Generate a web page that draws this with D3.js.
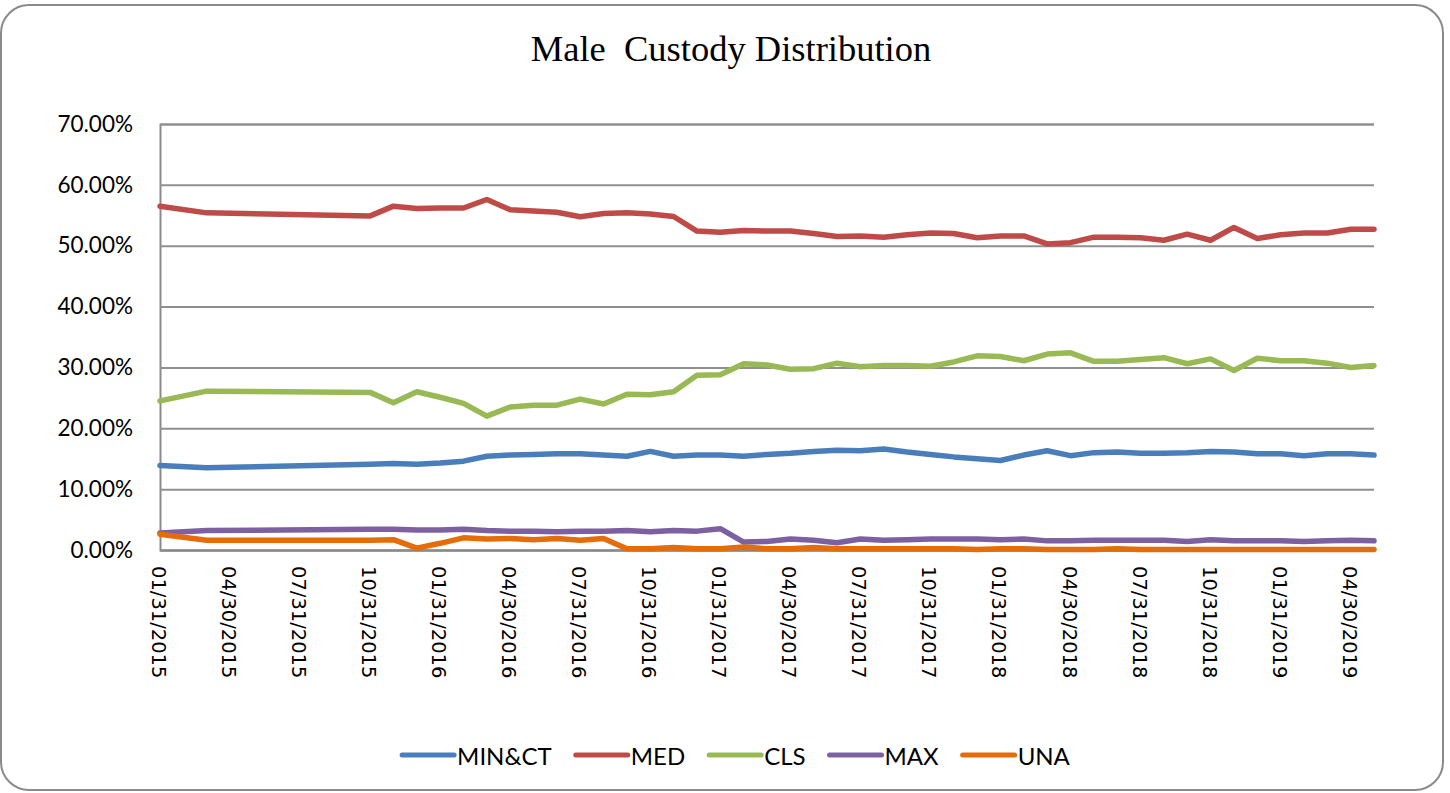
<!DOCTYPE html>
<html>
<head>
<meta charset="utf-8">
<script src="https://cdn.jsdelivr.net/npm/d3@7"></script>
<style>
  html, body { margin: 0; padding: 0; background: #fff; }
  svg { display: block; }
</style>
</head>
<body>
<svg id="chart" width="1450" height="793"></svg>
<script>
const title = "Male  Custody Distribution";

const dates = [
  "01/31/2015","03/31/2015","10/31/2015","11/30/2015","12/31/2015",
  "01/31/2016","02/29/2016","03/31/2016","04/30/2016","05/31/2016","06/30/2016",
  "07/31/2016","08/31/2016","09/30/2016","10/31/2016","11/30/2016","12/31/2016",
  "01/31/2017","02/28/2017","03/31/2017","04/30/2017","05/31/2017","06/30/2017",
  "07/31/2017","08/31/2017","09/30/2017","10/31/2017","11/30/2017","12/31/2017",
  "01/31/2018","02/28/2018","03/31/2018","04/30/2018","05/31/2018","06/30/2018",
  "07/31/2018","08/31/2018","09/30/2018","10/31/2018","11/30/2018","12/31/2018",
  "01/31/2019","02/28/2019","03/31/2019","04/30/2019","05/31/2019"
];

const tickLabels = [
  "01/31/2015","04/30/2015","07/31/2015","10/31/2015",
  "01/31/2016","04/30/2016","07/31/2016","10/31/2016",
  "01/31/2017","04/30/2017","07/31/2017","10/31/2017",
  "01/31/2018","04/30/2018","07/31/2018","10/31/2018",
  "01/31/2019","04/30/2019"
];

const yTicks = [0, 10, 20, 30, 40, 50, 60, 70];

const seriesNames = ["MIN&CT", "MED", "CLS", "MAX", "UNA"];
const seriesColors = ["#4A7EBB", "#BE4B48", "#98B954", "#7D60A0", "#E46C0A"];

const minct = [13.9,13.5,14.1,14.2,14.1,14.3,14.6,15.4,15.6,15.7,15.8,15.8,15.6,15.4,16.2,15.4,15.6,15.6,15.4,15.7,15.9,16.2,16.4,16.3,16.6,16.1,15.7,15.3,15.0,14.7,15.6,16.3,15.5,16.0,16.1,15.9,15.9,16.0,16.2,16.1,15.8,15.8,15.5,15.8,15.8,15.6];
const med   = [56.5,55.4,54.9,56.5,56.1,56.2,56.2,57.6,55.9,55.7,55.5,54.75,55.3,55.4,55.2,54.8,52.4,52.2,52.5,52.4,52.4,52.0,51.5,51.6,51.4,51.8,52.1,52.0,51.3,51.6,51.6,50.3,50.5,51.4,51.4,51.3,50.9,51.9,50.9,53.0,51.2,51.8,52.1,52.1,52.7,52.7];
const cls   = [24.5,26.1,25.9,24.2,26.0,25.1,24.1,22.0,23.5,23.8,23.8,24.8,24.0,25.6,25.5,26.0,28.7,28.8,30.6,30.4,29.7,29.8,30.7,30.1,30.3,30.3,30.2,30.9,31.9,31.8,31.1,32.2,32.4,31.0,31.0,31.3,31.6,30.6,31.4,29.5,31.5,31.1,31.1,30.7,30.0,30.3];
const max   = [2.8,3.2,3.4,3.4,3.3,3.3,3.4,3.2,3.1,3.1,3.0,3.1,3.1,3.2,3.0,3.2,3.1,3.5,1.3,1.4,1.8,1.6,1.2,1.8,1.6,1.7,1.8,1.8,1.8,1.7,1.8,1.5,1.5,1.6,1.6,1.6,1.6,1.4,1.7,1.5,1.5,1.5,1.4,1.5,1.6,1.5];
const una   = [2.6,1.6,1.6,1.7,0.3,1.1,2.0,1.8,1.9,1.7,1.9,1.6,1.9,0.2,0.2,0.4,0.2,0.2,0.5,0.2,0.2,0.4,0.2,0.2,0.2,0.2,0.2,0.2,0.1,0.2,0.2,0.1,0.1,0.1,0.2,0.1,0.1,0.1,0.1,0.1,0.1,0.1,0.1,0.1,0.1,0.1];

const seriesValues = [minct, med, cls, max, una];

// ---- drawing ----
const parse = d3.timeParse("%m/%d/%Y");
// Excel date axis with month base unit: map each date to a month index
const monthIndex = s => { const d = parse(s); return d.getFullYear() * 12 + d.getMonth(); };

const svg = d3.select("#chart");
const plot = { left: 160, right: 1374, top: 124, bottom: 550 };

const x = d3.scaleLinear()
  .domain([monthIndex(dates[0]), monthIndex(dates[dates.length - 1])])
  .range([plot.left, plot.right]);
const y = d3.scaleLinear().domain([0, 70]).range([plot.bottom, plot.top]);

// frame
svg.append("rect")
  .attr("x", 1).attr("y", 5).attr("width", 1442).attr("height", 785)
  .attr("rx", 28).attr("ry", 28)
  .attr("fill", "#fff").attr("stroke", "#8a8a8a").attr("stroke-width", 2);

// title
svg.append("text")
  .attr("x", 731).attr("y", 61)
  .attr("text-anchor", "middle")
  .style("white-space", "pre")
  .attr("font-family", "'Liberation Serif', 'Times New Roman', serif")
  .attr("font-size", 36.5)
  .attr("fill", "#000")
  .text(title);

// gridlines + y axis
const yAxis = d3.axisLeft(y)
  .tickValues(yTicks)
  .tickSize(-(plot.right - plot.left))
  .tickPadding(27)
  .tickFormat(d => d.toFixed(2) + "%");
const gy = svg.append("g")
  .attr("transform", `translate(${plot.left},0)`)
  .call(yAxis);
gy.select(".domain").attr("stroke", "#8a8a8a").attr("stroke-width", 2);
gy.selectAll(".tick line").attr("stroke", "#8f8f8f").attr("stroke-width", 2);
gy.selectAll(".tick text")
  .attr("font-family", "Lato, 'Open Sans', sans-serif")
  .attr("font-size", 22.5)
  .attr("fill", "#000");

// x axis
const xAxis = d3.axisBottom(x)
  .tickValues(tickLabels.map(monthIndex))
  .tickSize(0)
  .tickFormat((d, i) => tickLabels[i]);
const gx = svg.append("g")
  .attr("transform", `translate(0,${plot.bottom})`)
  .call(xAxis);
gx.select(".domain").attr("stroke", "#8a8a8a").attr("stroke-width", 2);
gx.selectAll(".tick text")
  .attr("font-family", "'DejaVu Sans', sans-serif")
  .attr("font-size", 19.5)
  .attr("fill", "#000")
  .attr("text-anchor", "start")
  .attr("dy", null)
  .attr("y", 0)
  .attr("transform", "translate(-2,16) rotate(90)")
  .attr("dominant-baseline", "central");

// lines
const line = d3.line()
  .x((d, i) => x(monthIndex(dates[i])))
  .y(d => y(d));

seriesValues.forEach((vals, k) => {
  svg.append("path")
    .datum(vals)
    .attr("fill", "none")
    .attr("stroke", seriesColors[k])
    .attr("stroke-width", 5.5)
    .attr("stroke-linejoin", "round")
    .attr("stroke-linecap", "round")
    .attr("d", line);
});

// legend
const legend = svg.append("g");
const items = legend.selectAll("g").data(seriesNames).join("g");
items.append("line")
  .attr("x1", 0).attr("x2", 52).attr("y1", 0).attr("y2", 0)
  .attr("stroke", (d, i) => seriesColors[i])
  .attr("stroke-width", 5)
  .attr("stroke-linecap", "round");
items.append("text")
  .attr("x", 55).attr("y", 0)
  .attr("dominant-baseline", "central")
  .attr("font-family", "Lato, 'Open Sans', sans-serif")
  .attr("font-size", 24)
  .attr("fill", "#000")
  .text(d => d);
let cx = 0;
const gap = 24;
items.each(function () {
  const w = 55 + this.querySelector("text").getComputedTextLength();
  d3.select(this).attr("data-x", cx);
  cx += w + gap;
});
const total = cx - gap;
const startX = 736 - total / 2;
items.attr("transform", function () {
  return `translate(${startX + +this.getAttribute("data-x")},755)`;
});
</script>
</body>
</html>
